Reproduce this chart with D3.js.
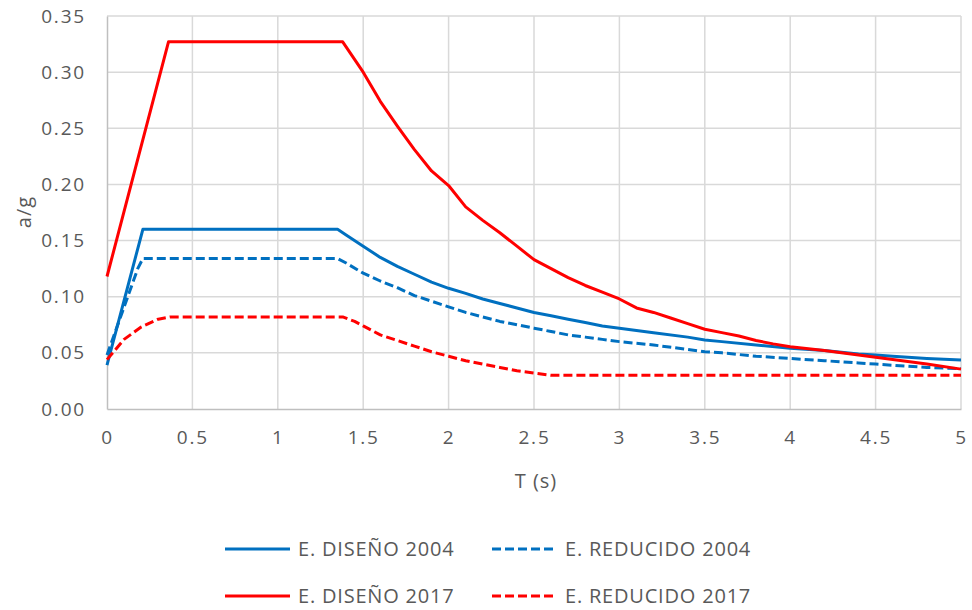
<!DOCTYPE html>
<html>
<head>
<meta charset="utf-8">
<script src="https://cdn.jsdelivr.net/npm/d3@7"></script>
<style>
  body { margin: 0; background: #fff; }
  text { font-family: "Open Sans", sans-serif; fill: #595959; }
</style>
</head>
<body>
<div id="chart"></div>
<script>
var width = 972;
var height = 610;

// E. DISEÑO 2004
var tDis2004 = [0, 0.21, 1.35, 1.4, 1.5, 1.6, 1.7, 1.8, 1.9, 2.0, 2.1, 2.2, 2.3, 2.4, 2.5, 2.6, 2.7, 2.8, 2.9, 3.0, 3.2, 3.4, 3.5, 3.6, 3.8, 4.0, 4.2, 4.4, 4.5, 4.6, 4.8, 5.0];
var aDis2004 = [0.039, 0.160, 0.160, 0.155, 0.145, 0.135, 0.127, 0.120, 0.113, 0.1075, 0.103, 0.098, 0.094, 0.090, 0.086, 0.083, 0.080, 0.077, 0.074, 0.072, 0.068, 0.064, 0.0615, 0.060, 0.057, 0.054, 0.052, 0.049, 0.048, 0.047, 0.045, 0.0436];

// E. REDUCIDO 2004
var tRed2004 = [0, 0.18, 0.21, 1.35, 1.4, 1.5, 1.6, 1.7, 1.8, 1.9, 2.0, 2.1, 2.2, 2.3, 2.4, 2.5, 2.6, 2.7, 2.8, 2.9, 3.0, 3.2, 3.4, 3.5, 3.6, 3.8, 4.0, 4.2, 4.4, 4.5, 4.6, 4.8, 5.0];
var aRed2004 = [0.048, 0.125, 0.134, 0.134, 0.130, 0.121, 0.114, 0.108, 0.101, 0.096, 0.091, 0.086, 0.082, 0.078, 0.075, 0.072, 0.069, 0.066, 0.064, 0.062, 0.060, 0.057, 0.053, 0.051, 0.050, 0.047, 0.045, 0.043, 0.041, 0.040, 0.039, 0.037, 0.036];

// E. DISEÑO 2017
var tDis2017 = [0, 0.36, 1.38, 1.5, 1.6, 1.7, 1.8, 1.9, 2.0, 2.1, 2.2, 2.3, 2.4, 2.5, 2.6, 2.7, 2.8, 2.9, 3.0, 3.1, 3.2, 3.3, 3.4, 3.5, 3.6, 3.7, 3.8, 3.9, 4.0, 4.2, 4.4, 4.6, 4.8, 5.0];
var aDis2017 = [0.118, 0.327, 0.327, 0.300, 0.274, 0.252, 0.231, 0.212, 0.199, 0.180, 0.168, 0.157, 0.145, 0.133, 0.125, 0.117, 0.110, 0.104, 0.098, 0.090, 0.086, 0.081, 0.076, 0.071, 0.068, 0.065, 0.061, 0.058, 0.0555, 0.052, 0.048, 0.044, 0.040, 0.0355];

// E. REDUCIDO 2017
var tRed2017 = [0, 0.1, 0.2, 0.3, 0.37, 1.38, 1.45, 1.5, 1.6, 1.7, 1.8, 1.9, 2.0, 2.1, 2.2, 2.3, 2.4, 2.5, 2.6, 5.0];
var aRed2017 = [0.044, 0.062, 0.073, 0.080, 0.082, 0.082, 0.078, 0.074, 0.066, 0.061, 0.056, 0.051, 0.047, 0.043, 0.040, 0.037, 0.034, 0.032, 0.030, 0.030];

var xTicks = [0, 0.5, 1, 1.5, 2, 2.5, 3, 3.5, 4, 4.5, 5];
var yTicks = [0, 0.05, 0.10, 0.15, 0.20, 0.25, 0.30, 0.35];

var seriesNames = ["E. DISEÑO 2004", "E. REDUCIDO 2004", "E. DISEÑO 2017", "E. REDUCIDO 2017"];

function zip(ts, vs) {
    return ts.map(function(t, i) { return [t, vs[i]]; });
}

var series = [
    {name: seriesNames[0], pts: zip(tDis2004, aDis2004), color: "#0070C0", dash: null},
    {name: seriesNames[1], pts: zip(tRed2004, aRed2004), color: "#0070C0", dash: "9,4"},
    {name: seriesNames[2], pts: zip(tDis2017, aDis2017), color: "#FF0000", dash: null},
    {name: seriesNames[3], pts: zip(tRed2017, aRed2017), color: "#FF0000", dash: "9,4"}
];

var xScale = d3.scaleLinear().domain([0, 5]).range([107, 961]);
var yScale = d3.scaleLinear().domain([0, 0.35]).range([409, 16]);

var svg = d3.select("#chart")
    .append("svg")
    .attr("width", width)
    .attr("height", height);

// gridlines
svg.append("g")
    .selectAll("line")
    .data(yTicks.slice(1))
    .enter()
    .append("line")
    .attr("x1", xScale(0))
    .attr("x2", xScale(5))
    .attr("y1", function(d) { return yScale(d); })
    .attr("y2", function(d) { return yScale(d); })
    .attr("stroke", "#d9d9d9")
    .attr("stroke-width", 1.5);

svg.append("g")
    .selectAll("line")
    .data(xTicks.slice(1))
    .enter()
    .append("line")
    .attr("x1", function(d) { return xScale(d); })
    .attr("x2", function(d) { return xScale(d); })
    .attr("y1", yScale(0))
    .attr("y2", yScale(0.35))
    .attr("stroke", "#d9d9d9")
    .attr("stroke-width", 1.5);

// axes
var xAxis = d3.axisBottom(xScale).tickValues(xTicks).tickSize(0).tickPadding(22)
    .tickFormat(function(d) { return d3.format("")(d); });
var yAxis = d3.axisLeft(yScale).tickValues(yTicks).tickSize(0).tickPadding(21)
    .tickFormat(d3.format(".2f"));

var gx = svg.append("g")
    .attr("transform", "translate(0," + yScale(0) + ")")
    .call(xAxis);
var gy = svg.append("g")
    .attr("transform", "translate(" + xScale(0) + ",0)")
    .call(yAxis);

[gx, gy].forEach(function(g) {
    g.select(".domain").attr("stroke", "#bfbfbf").attr("stroke-width", 1.5);
    g.selectAll("text")
        .style("font-family", "'Open Sans', sans-serif")
        .style("font-size", "19px")
        .style("letter-spacing", "1.8px")
        .attr("fill", "#595959");
});

// lines
var line = d3.line()
    .x(function(d) { return xScale(d[0]); })
    .y(function(d) { return yScale(d[1]); });

svg.append("g")
    .selectAll("path")
    .data(series)
    .enter()
    .append("path")
    .attr("d", function(d) { return line(d.pts); })
    .attr("fill", "none")
    .attr("stroke", function(d) { return d.color; })
    .attr("stroke-width", 3)
    .attr("stroke-linejoin", "round")
    .attr("stroke-dasharray", function(d) { return d.dash; });

// axis titles
svg.append("text")
    .attr("x", 536)
    .attr("y", 488)
    .attr("text-anchor", "middle")
    .style("font-size", "20px")
    .style("letter-spacing", "1px")
    .text("T (s)");

svg.append("text")
    .attr("transform", "translate(31,212) rotate(-90)")
    .attr("text-anchor", "middle")
    .style("font-size", "20px")
    .style("letter-spacing", "1px")
    .text("a/g");

// legend
var legendPos = [[225, 549], [492, 549], [225, 596], [492, 596]];
var legend = svg.append("g")
    .selectAll("g")
    .data(series)
    .enter()
    .append("g")
    .attr("transform", function(d, i) { return "translate(" + legendPos[i][0] + "," + legendPos[i][1] + ")"; });

legend.append("line")
    .attr("x1", 0)
    .attr("x2", 65)
    .attr("stroke", function(d) { return d.color; })
    .attr("stroke-width", 3)
    .attr("stroke-dasharray", function(d) { return d.dash; });

legend.append("text")
    .attr("x", 73)
    .attr("dy", "0.35em")
    .style("font-size", "20px")
    .style("letter-spacing", "0.8px")
    .text(function(d) { return d.name; });
</script>
</body>
</html>
